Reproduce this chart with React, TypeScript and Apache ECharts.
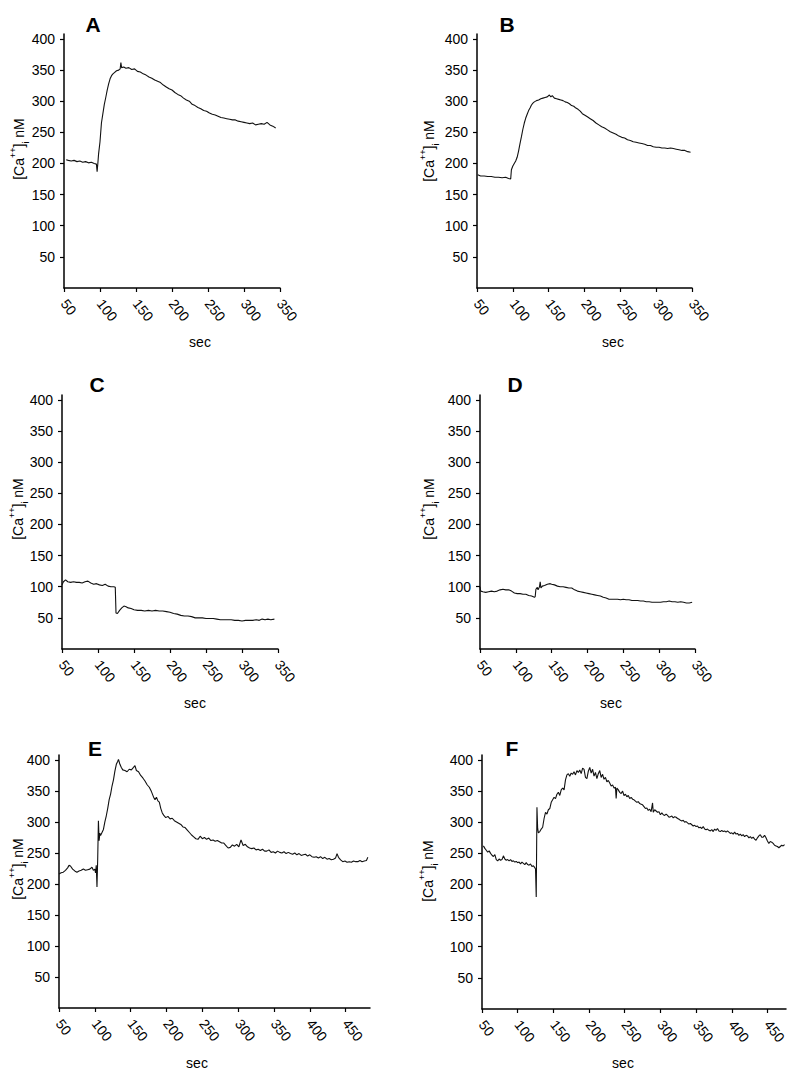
import React, { useEffect, useRef } from "react";
import * as echarts from "echarts";

// ---------- data ----------
const panelLetters = ["A", "B", "C", "D", "E", "F"];
const yTickValues = [50, 100, 150, 200, 250, 300, 350, 400];
const xTicksShort = [50, 100, 150, 200, 250, 300, 350];
const xTicksLong = [50, 100, 150, 200, 250, 300, 350, 400, 450];
const xAxisMax = [350, 350, 350, 350, 484, 476];
const yAxisMax = 408;

const timeA = [53, 56, 60, 64, 68, 72, 76, 80, 84, 88, 92, 95, 96, 97, 98, 100, 102, 104, 106, 108, 110, 112, 114, 116, 118, 120, 123, 126, 128, 129, 130, 133, 136, 140, 144, 148, 152, 156, 160, 164, 168, 172, 176, 180, 184, 188, 192, 196, 200, 204, 208, 212, 216, 220, 224, 228, 232, 236, 240, 244, 248, 252, 256, 260, 264, 268, 272, 276, 280, 284, 288, 292, 296, 300, 304, 308, 312, 316, 320, 324, 328, 332, 336, 340, 344];
const caA = [206, 205, 204, 205, 203, 204, 202, 203, 201, 202, 200, 199, 187, 200, 215, 235, 265, 280, 295, 306, 318, 328, 336, 341, 344, 346, 349, 350, 352, 362, 354, 355, 353, 354, 351, 352, 348, 347, 344, 342, 339, 337, 334, 332, 330, 326, 323, 320, 318, 314, 311, 309, 305, 302, 300, 295, 293, 290, 288, 285, 284, 281, 279, 278, 276, 274, 273, 272, 271, 270, 270, 268, 267, 266, 265, 264, 265, 262, 263, 264, 263, 266, 262, 260, 257];

const timeB = [51, 55, 60, 65, 70, 75, 80, 85, 90, 94, 97, 98, 100, 102, 104, 106, 108, 110, 112, 114, 116, 118, 120, 122, 124, 126, 128, 130, 133, 136, 139, 142, 145, 148, 151, 153, 155, 158, 161, 164, 167, 170, 173, 176, 179, 182, 185, 188, 191, 194, 197, 200, 204, 208, 212, 216, 220, 224, 228, 232, 236, 240, 244, 248, 252, 256, 260, 264, 268, 272, 276, 280, 284, 288, 292, 296, 300, 304, 308, 312, 316, 320, 324, 328, 332, 336, 340, 344, 348];
const caB = [182, 180, 180, 179, 179, 178, 178, 177, 178, 176, 175, 190, 196, 200, 204, 210, 220, 232, 243, 255, 265, 273, 279, 285, 289, 294, 297, 299, 301, 302, 304, 305, 306, 307, 310, 307, 309, 305, 304, 303, 302, 301, 299, 298, 296, 293, 292, 289, 287, 284, 280, 278, 275, 272, 269, 265, 262, 259, 257, 254, 251, 249, 247, 244, 242, 241, 238, 237, 235, 234, 233, 232, 231, 229, 229, 227, 226, 226, 225, 225, 224, 225, 224, 223, 222, 221, 221, 219, 218];

const timeC = [50, 52, 55, 58, 62, 66, 70, 74, 78, 82, 86, 90, 94, 98, 102, 106, 110, 114, 118, 122, 124, 125, 127, 130, 133, 136, 139, 142, 146, 150, 155, 160, 165, 170, 175, 180, 185, 190, 195, 200, 205, 210, 215, 220, 225, 230, 235, 240, 245, 250, 255, 260, 265, 270, 275, 280, 285, 290, 295, 300, 305, 310, 315, 320, 324, 328, 332, 336, 340, 345];
const caC = [103, 108, 111, 108, 107, 108, 107, 107, 106, 108, 109, 106, 104, 105, 103, 102, 104, 101, 100, 100, 99, 58, 57, 62, 66, 69, 68, 66, 65, 63, 62, 62, 61, 62, 61, 62, 61, 61, 60, 59, 57, 56, 54, 53, 53, 52, 50, 50, 50, 49, 49, 49, 48, 47, 47, 47, 47, 46, 46, 45, 46, 46, 46, 47, 46, 48, 47, 48, 47, 48];

const timeD = [50, 51, 54, 58, 62, 66, 70, 74, 78, 82, 86, 90, 94, 98, 102, 106, 110, 114, 118, 122, 126, 127, 128, 130, 131, 133, 134, 135, 137, 140, 144, 148, 150, 154, 158, 162, 166, 170, 174, 178, 182, 186, 190, 194, 198, 202, 206, 210, 214, 218, 222, 226, 230, 234, 238, 242, 246, 250, 254, 258, 262, 266, 270, 274, 278, 282, 286, 290, 294, 298, 302, 306, 310, 314, 318, 322, 326, 330, 334, 338, 342, 346];
const caD = [100, 93, 92, 91, 92, 93, 92, 93, 95, 96, 95, 95, 93, 90, 89, 89, 88, 88, 86, 85, 83, 84, 96, 99, 95, 100, 108, 98, 101, 102, 104, 105, 104, 103, 101, 100, 100, 99, 98, 98, 95, 93, 92, 91, 90, 89, 88, 87, 86, 85, 83, 82, 80, 80, 80, 80, 79, 80, 79, 79, 78, 78, 78, 77, 77, 76, 76, 75, 75, 75, 75, 76, 76, 77, 76, 76, 75, 76, 75, 74, 74, 75];

const timeE = [50, 53, 56, 59, 62, 64, 66, 69, 72, 75, 78, 81, 84, 87, 90, 93, 96, 98, 100, 101, 102, 103, 104, 105, 106, 107, 108, 110, 112, 114, 116, 118, 120, 122, 124, 126, 128, 130, 132, 133, 135, 137, 139, 142, 145, 148, 151, 154, 156, 158, 161, 164, 167, 170, 173, 176, 179, 182, 184, 186, 188, 190, 192, 194, 196, 199, 202, 205, 208, 211, 214, 217, 220, 223, 226, 229, 232, 235, 238, 241, 244, 247, 250, 253, 256, 259, 262, 265, 268, 271, 274, 277, 280, 283, 286, 289, 292, 295, 298, 301, 304, 307, 310, 313, 316, 319, 322, 325, 328, 331, 334, 337, 340, 343, 346, 349, 352, 355, 358, 361, 364, 367, 370, 373, 376, 379, 382, 385, 388, 391, 394, 397, 400, 403, 406, 409, 412, 415, 418, 421, 424, 427, 430, 433, 436, 438, 440, 443, 446, 449, 452, 455, 458, 461, 464, 467, 470, 473, 476, 479, 481];
const caE = [216, 218, 219, 222, 226, 230, 229, 224, 221, 219, 221, 222, 224, 222, 223, 224, 227, 222, 224, 218, 230, 195, 240, 302, 270, 282, 278, 283, 288, 300, 310, 322, 336, 345, 358, 368, 382, 393, 398, 401, 393, 388, 384, 383, 381, 385, 384, 388, 391, 383, 381, 375, 371, 366, 360, 356, 349, 340, 336, 340, 334, 332, 322, 315, 311, 307, 309, 305, 306, 302, 300, 298, 296, 292, 291, 287, 283, 279, 276, 273, 272, 277, 273, 275, 272, 274, 270, 271, 269, 270, 268, 266, 266, 262, 258, 259, 263, 261, 264, 260, 271, 262, 264, 260, 258, 257, 258, 255, 256, 254, 256, 253, 253, 255, 251, 252, 250, 253, 251, 250, 252, 249, 251, 249, 248, 250, 247, 249, 246, 247, 248, 245, 247, 244, 243, 244, 242, 244, 241, 243, 240, 241, 239, 240, 242, 249, 243, 239, 236, 237, 235, 236, 235, 237, 236, 236, 238, 236, 237, 238, 243];

const timeF = [52, 54, 56, 58, 60, 62, 64, 66, 68, 70, 72, 74, 76, 78, 80, 82, 84, 86, 88, 90, 92, 94, 96, 98, 100, 102, 104, 106, 108, 110, 112, 114, 116, 118, 120, 122, 124, 125, 126, 127, 128, 129, 131, 133, 135, 137, 139, 141, 143, 145, 147, 149, 151, 153, 155, 157, 159, 161, 163, 165, 167, 169, 171, 173, 175, 177, 179, 181, 183, 185, 187, 189, 191, 193, 195, 197, 199, 201, 203, 205, 207, 209, 211, 213, 215, 217, 219, 221, 223, 225, 227, 229, 231, 233, 235, 237, 238, 239, 241, 243, 245, 247, 249, 251, 253, 255, 257, 259, 261, 263, 265, 267, 269, 271, 273, 275, 277, 279, 281, 283, 285, 287, 289, 290, 292, 294, 296, 298, 300, 302, 304, 306, 308, 310, 312, 314, 316, 318, 320, 322, 324, 326, 328, 330, 332, 334, 336, 338, 340, 342, 344, 346, 348, 350, 352, 354, 356, 358, 360, 362, 364, 366, 368, 370, 372, 374, 376, 378, 380, 382, 384, 386, 388, 390, 392, 394, 396, 398, 400, 402, 404, 406, 408, 410, 412, 414, 416, 418, 420, 422, 424, 426, 428, 430, 432, 434, 436, 438, 440, 442, 444, 446, 448, 450, 452, 454, 456, 458, 460, 462, 464, 466, 468, 470, 472, 474];
const caF = [262, 258, 255, 252, 254, 250, 247, 245, 248, 240, 238, 241, 239, 240, 246, 241, 239, 240, 238, 240, 237, 238, 236, 237, 235, 236, 233, 236, 234, 232, 235, 232, 231, 233, 229, 230, 227, 225, 180, 324, 290, 283, 285, 289, 292, 306, 316, 313, 320, 322, 332, 336, 340, 338, 345, 348, 343, 352, 355, 352, 368, 376, 378, 374, 379, 377, 381, 376, 383, 380, 384, 378, 387, 385, 372, 370, 382, 388, 379, 385, 374, 380, 370, 378, 383, 372, 377, 369, 372, 365, 367, 363, 358, 360, 355, 356, 338, 355, 352, 348, 346, 350, 343, 345, 341, 343, 338, 340, 337, 336, 334, 332, 333, 330, 329, 328, 325, 322, 323, 319, 321, 317, 331, 316, 320, 318, 316, 317, 312, 315, 312, 311, 313, 311, 308, 309, 310, 307, 309, 308, 306, 305, 303, 302, 303, 300, 301, 299, 297, 298, 296, 294, 295, 293, 294, 291, 292, 290, 293, 289, 288, 289, 287, 286, 288, 285, 289, 287, 290, 286, 285, 287, 285, 286, 284, 286, 284, 282, 283, 281, 284, 281, 282, 279, 281, 278, 280, 277, 279, 278, 275, 277, 274, 276, 273, 271, 275, 278, 280, 276, 276, 279, 275, 270, 266, 269, 268, 266, 263, 262, 261, 259, 261, 263, 262, 264];

const panelTimes = [timeA, timeB, timeC, timeD, timeE, timeF];
const panelValues = [caA, caB, caC, caD, caE, caF];

// ---------- layout ----------
const grids = [
  { left: 64, top: 34, width: 216, height: 254 },
  { left: 477, top: 34, width: 215, height: 254 },
  { left: 62, top: 395, width: 216, height: 254 },
  { left: 480, top: 395, width: 215, height: 254 },
  { left: 59, top: 755, width: 311, height: 253 },
  { left: 482, top: 755, width: 304, height: 254 },
];
const titlePos = [[93, 24], [507, 24], [97, 384], [515, 384], [95, 748], [512, 748]];
const yNamePos = [[19, 149], [429, 151], [18, 509], [429, 509], [18, 869], [428, 871]];
const xNamePos = [[200, 342], [613, 342], [195, 703], [611, 703], [197, 1063], [623, 1063]];

const FONT = "'Liberation Sans', Arial, Helvetica, sans-serif";

export default function App() {
  const ref = useRef<HTMLDivElement>(null);

  useEffect(() => {
    if (!ref.current) return;
    const chart = echarts.init(ref.current, null, { renderer: "svg" });

    const xAxes = grids.map((_, i) => {
      const ticks = i < 4 ? xTicksShort : xTicksLong;
      return {
        type: "value",
        gridIndex: i,
        min: 50,
        max: xAxisMax[i],
        interval: 50,
        splitLine: { show: false },
        axisLine: { show: true, onZero: false, lineStyle: { color: "#000", width: 1.5 } },
        axisTick: { show: true, length: 4, customValues: ticks, lineStyle: { color: "#000", width: 1.2 } },
        axisLabel: {
          customValues: ticks,
          rotate: -52,
          margin: 13,
          color: "#000",
          fontSize: 14,
          fontFamily: FONT,
        },
      };
    });

    const yAxes = grids.map((_, i) => ({
      type: "value",
      gridIndex: i,
      min: 0,
      max: yAxisMax,
      interval: 50,
      splitLine: { show: false },
      axisLine: { show: true, onZero: false, lineStyle: { color: "#000", width: 1.5 } },
      axisTick: { show: true, length: 4, customValues: yTickValues, lineStyle: { color: "#000", width: 1.2 } },
      axisLabel: {
        customValues: yTickValues,
        margin: 9,
        color: "#000",
        fontSize: 14,
        fontFamily: FONT,
      },
    }));

    const series = panelTimes.map((times, i) => ({
      type: "line",
      xAxisIndex: i,
      yAxisIndex: i,
      showSymbol: false,
      symbol: "none",
      data: times.map((t, k) => [t, panelValues[i][k]]),
      lineStyle: { color: "#111", width: 1.1 },
    }));

    const graphics: any[] = [];
    panelLetters.forEach((letter, i) => {
      graphics.push({
        type: "text",
        x: titlePos[i][0],
        y: titlePos[i][1],
        style: {
          text: letter,
          fontSize: 21,
          fontWeight: "bold",
          fontFamily: FONT,
          fill: "#000",
          align: "center",
          verticalAlign: "middle",
        },
      });
      graphics.push({
        type: "text",
        x: xNamePos[i][0],
        y: xNamePos[i][1],
        style: {
          text: "sec",
          fontSize: 14,
          fontFamily: FONT,
          fill: "#000",
          align: "center",
          verticalAlign: "middle",
        },
      });
      graphics.push({
        type: "text",
        x: yNamePos[i][0],
        y: yNamePos[i][1],
        rotation: Math.PI / 2,
        style: {
          text: "{n|[Ca}{sup|++}{n|]}{sub|i}{n| nM}",
          fontSize: 14,
          fontFamily: FONT,
          fill: "#000",
          align: "center",
          verticalAlign: "middle",
          rich: {
            n: { fontSize: 14, fontFamily: FONT, fill: "#000", lineHeight: 22, verticalAlign: "middle" },
            sup: { fontSize: 9, fontFamily: FONT, fill: "#000", lineHeight: 10, verticalAlign: "top" },
            sub: { fontSize: 9, fontFamily: FONT, fill: "#000", lineHeight: 10, verticalAlign: "bottom" },
          },
        },
      });
    });

    chart.setOption({
      animation: false,
      backgroundColor: "#fff",
      grid: grids.map((g) => ({ ...g, containLabel: false })),
      xAxis: xAxes,
      yAxis: yAxes,
      series,
      graphic: graphics,
    });

    return () => chart.dispose();
  }, []);

  return (
    <div
      ref={ref}
      style={{ position: "fixed", left: 0, top: 0, width: 800, height: 1074, background: "#fff" }}
    />
  );
}
